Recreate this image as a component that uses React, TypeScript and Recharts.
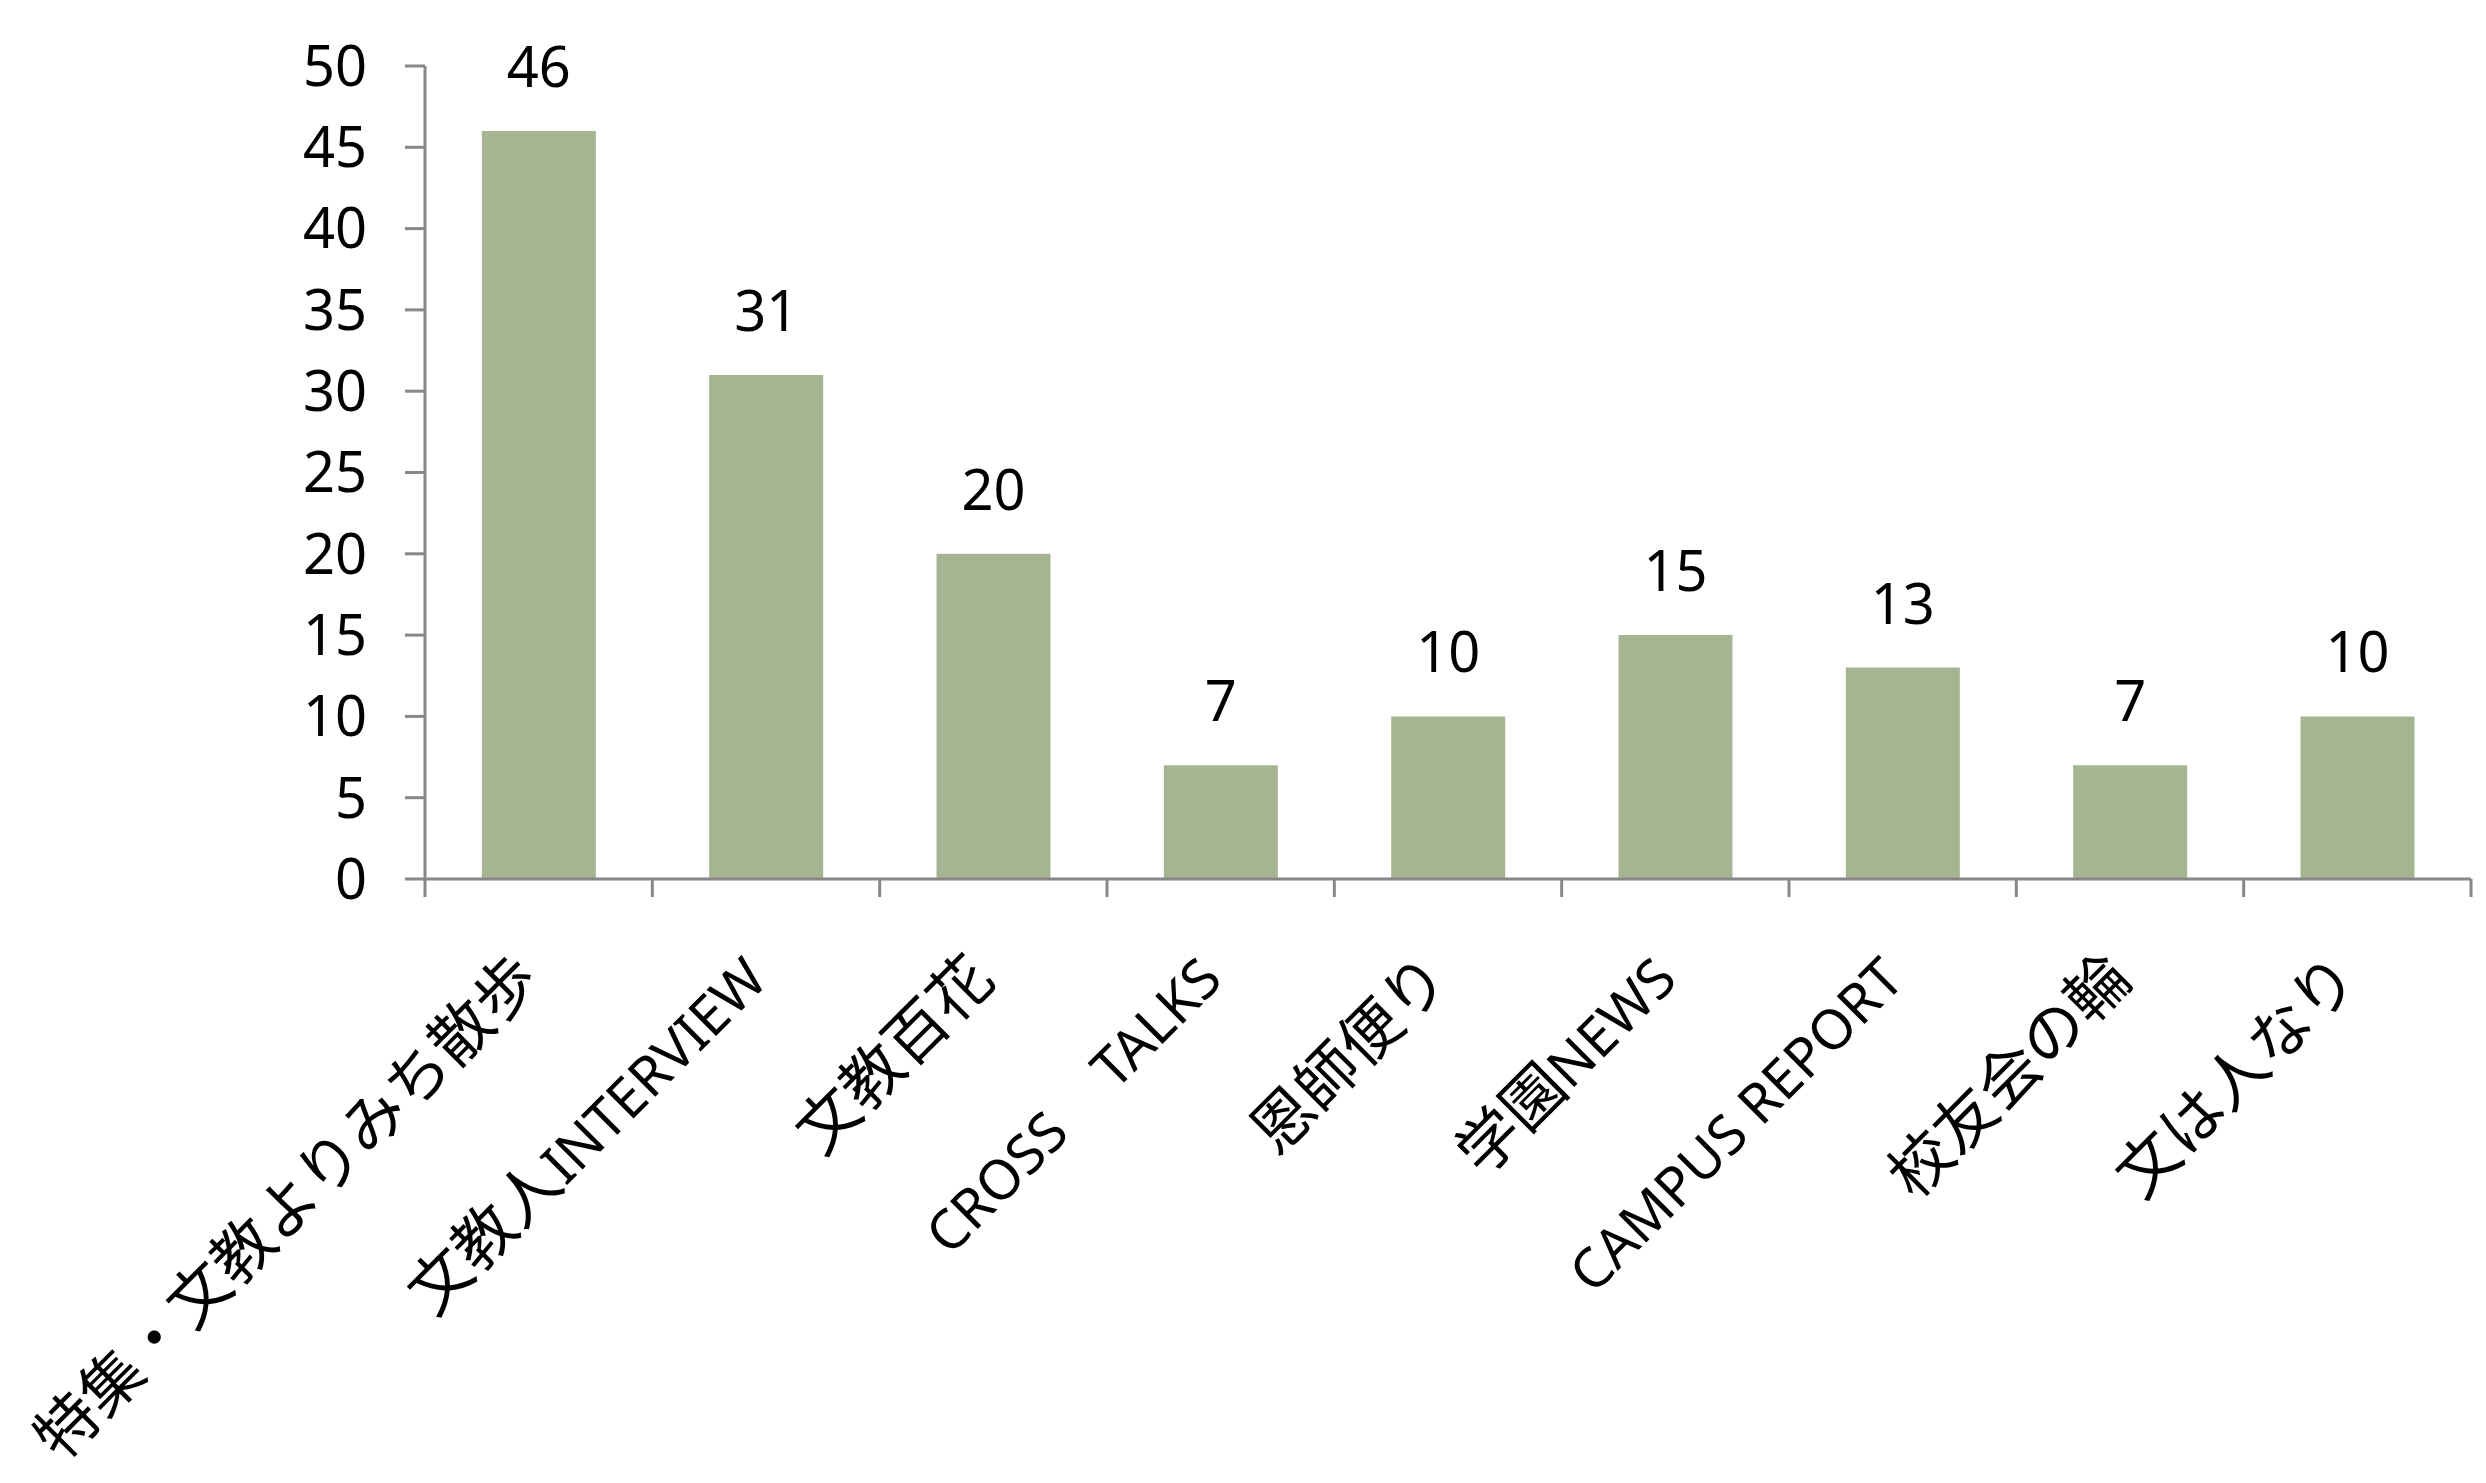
import { BarChart, Bar, XAxis, YAxis, LabelList } from "recharts";

const categories = [
  "特集・文教よりみち散歩",
  "文教人INTERVIEW",
  "文教百花",
  "CROSS　TALKS",
  "恩師便り",
  "学園NEWS",
  "CAMPUS REPORT",
  "校友会の輪",
  "文は人なり",
];

const counts = [46, 31, 20, 7, 10, 15, 13, 7, 10];

const yTicks = [0, 5, 10, 15, 20, 25, 30, 35, 40, 45, 50];

const AXIS = "#878787";
const BAR = "#a6b591";
const FONT = "'Noto Sans', 'Noto Sans CJK JP', sans-serif";
const CJK_FONT = "'Noto Sans CJK JP', 'Noto Sans', sans-serif";

const data = categories.map((name, i) => ({ name, value: counts[i] }));

// latin and japanese runs get their own size, like the original's mixed fonts
function splitRuns(label: string) {
  return label.match(/[\x20-\x7e]+|[^\x20-\x7e]+/g) ?? [label];
}

function CategoryTick(props: any) {
  const { x, y, payload, index } = props;
  const half = payload.offset ?? 0;
  const tx = x + 4;
  const ty = y + 103;
  return (
    <g>
      <line x1={x - half} x2={x - half} y1={y} y2={y + 18} stroke={AXIS} strokeWidth={3} />
      {index === categories.length - 1 && (
        <line x1={x + half} x2={x + half} y1={y} y2={y + 18} stroke={AXIS} strokeWidth={3} />
      )}
      <text
        x={tx}
        y={ty}
        textAnchor="end"
        fill="#000"
        transform={`rotate(-45, ${tx}, ${ty})`}
      >
        {splitRuns(String(payload.value)).map((run, i) => {
          const latin = /^[\x20-\x7e]+$/.test(run);
          return (
            <tspan
              key={i}
              fontSize={latin ? 55 : 62}
              fontFamily={latin ? FONT : CJK_FONT}
            >
              {run}
            </tspan>
          );
        })}
      </text>
    </g>
  );
}

export default function App() {
  return (
    <div style={{ width: 2478, height: 1475, background: "#fff" }}>
      <BarChart
        width={2478}
        height={1475}
        data={data}
        margin={{ top: 58, right: 15, left: 0, bottom: 0 }}
        barCategoryGap="25%"
      >
        <XAxis
          dataKey="name"
          interval={0}
          height={604}
          tickSize={0}
          tickMargin={0}
          tickLine={false}
          axisLine={{ stroke: AXIS, strokeWidth: 3 }}
          tick={<CategoryTick />}
        />
        <YAxis
          width={417}
          domain={[0, 50]}
          ticks={yTicks}
          interval={0}
          tickSize={20}
          tickMargin={38}
          axisLine={{ stroke: AXIS, strokeWidth: 3 }}
          tickLine={{ stroke: AXIS, strokeWidth: 3 }}
          tick={{ fill: "#000", fontSize: 56, fontFamily: FONT }}
        />
        <Bar dataKey="value" fill={BAR} isAnimationActive={false}>
          <LabelList
            dataKey="value"
            position="top"
            offset={44}
            fill="#000"
            fontSize={56}
            fontFamily={FONT}
          />
        </Bar>
      </BarChart>
    </div>
  );
}
